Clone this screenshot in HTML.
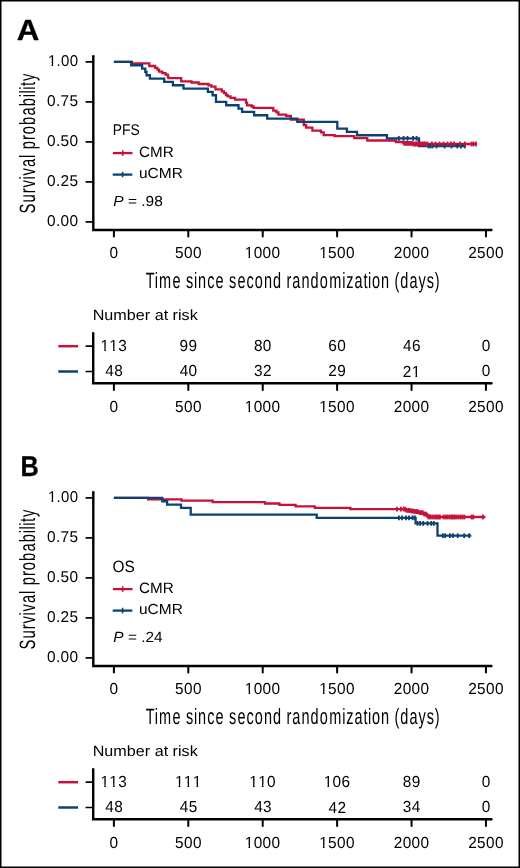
<!DOCTYPE html><html><head><meta charset="utf-8"><title>Survival curves</title><style>html,body{margin:0;padding:0;background:#fff;}svg{display:block;will-change:transform;font-family:"Liberation Sans",sans-serif;}</style></head><body><svg width="520" height="868" viewBox="0 0 520 868" font-family="Liberation Sans, sans-serif" text-rendering="geometricPrecision"><rect x="0" y="0" width="520" height="868" fill="#fff"/><g stroke="#000" fill="none">
<path d="M93.3,55.40V230.00H491.4" stroke-width="2.4" stroke-linejoin="miter"/>
<line x1="93.3" y1="55.40" x2="93.3" y2="56.50" stroke-width="2.4"/>
<line x1="491.4" y1="230.00" x2="491.4" y2="230.00" stroke-width="2.4" stroke-linecap="round"/>
<line x1="86.3" y1="61.90" x2="93" y2="61.90" stroke-width="1.7" stroke-linecap="round"/>
<line x1="86.3" y1="101.90" x2="93" y2="101.90" stroke-width="1.7" stroke-linecap="round"/>
<line x1="86.3" y1="141.90" x2="93" y2="141.90" stroke-width="1.7" stroke-linecap="round"/>
<line x1="86.3" y1="181.90" x2="93" y2="181.90" stroke-width="1.7" stroke-linecap="round"/>
<line x1="86.3" y1="221.90" x2="93" y2="221.90" stroke-width="1.7" stroke-linecap="round"/>
<line x1="113.90" y1="230.00" x2="113.90" y2="236.40" stroke-width="2" stroke-linecap="round"/>
<line x1="188.31" y1="230.00" x2="188.31" y2="236.40" stroke-width="2" stroke-linecap="round"/>
<line x1="262.72" y1="230.00" x2="262.72" y2="236.40" stroke-width="2" stroke-linecap="round"/>
<line x1="337.13" y1="230.00" x2="337.13" y2="236.40" stroke-width="2" stroke-linecap="round"/>
<line x1="411.54" y1="230.00" x2="411.54" y2="236.40" stroke-width="2" stroke-linecap="round"/>
<line x1="485.95" y1="230.00" x2="485.95" y2="236.40" stroke-width="2" stroke-linecap="round"/>
<path d="M93.2,332.20V383.20H491.4" stroke-width="2.4"/>
<line x1="491.4" y1="383.20" x2="491.4" y2="383.20" stroke-width="2.4" stroke-linecap="round"/>
<line x1="86.3" y1="346.10" x2="93" y2="346.10" stroke-width="1.7" stroke-linecap="round"/>
<line x1="86.3" y1="371.50" x2="93" y2="371.50" stroke-width="1.7" stroke-linecap="round"/>
<line x1="113.90" y1="383.20" x2="113.90" y2="390.00" stroke-width="2" stroke-linecap="round"/>
<line x1="188.31" y1="383.20" x2="188.31" y2="390.00" stroke-width="2" stroke-linecap="round"/>
<line x1="262.72" y1="383.20" x2="262.72" y2="390.00" stroke-width="2" stroke-linecap="round"/>
<line x1="337.13" y1="383.20" x2="337.13" y2="390.00" stroke-width="2" stroke-linecap="round"/>
<line x1="411.54" y1="383.20" x2="411.54" y2="390.00" stroke-width="2" stroke-linecap="round"/>
<line x1="485.95" y1="383.20" x2="485.95" y2="390.00" stroke-width="2" stroke-linecap="round"/>
</g>
<path d="M113.90,61.90H132.00V63.30H149.30V66.00H155.10V67.80H157.40V69.60H159.10V71.60H162.30V73.10H165.50V74.60H167.90V77.30H168.60V78.10H181.20V81.30H191.50V82.50H198.70V84.00H208.50V85.30H211.40V86.70H215.50V89.30H221.80V91.30H224.00V93.20H226.00V95.00H227.60V96.40H230.50V97.80H235.10V99.60H246.00V102.70H247.10V105.30H251.70V106.50H253.50V107.90H273.30V110.60H276.40V112.40H278.40V114.60H286.20V115.90H290.80V119.60H303.80V125.00H306.10V127.60H312.40V130.60H321.00V132.40H323.70V135.20H334.60V136.10H354.30V138.10H367.30V140.50H395.90V142.00H403.40V143.40H413.30V144.00H476.30" fill="none" stroke="#C4123A" stroke-width="2.3"/>
<path d="M113.90,61.90H131.20V65.23H142.10V68.57H145.30V71.90H146.50V75.23H149.90V78.57H164.20V81.90H172.90V85.23H183.50V88.57H207.90V91.90H212.60V95.23H216.00V101.90H226.20V105.23H238.50V108.57H242.10V111.90H254.10V115.23H267.20V118.57H297.30V121.90H337.30V128.57H346.90V131.90H357.00V135.23H386.90V138.40H419.00V146.00H466.00" fill="none" stroke="#0A4273" stroke-width="2.3"/>
<g stroke="#0A4273" stroke-width="1.8"><line x1="398.80" y1="136.00" x2="398.80" y2="140.80"/><line x1="403.60" y1="136.00" x2="403.60" y2="140.80"/><line x1="407.50" y1="136.00" x2="407.50" y2="140.80"/><line x1="413.10" y1="136.00" x2="413.10" y2="140.80"/><line x1="416.60" y1="136.00" x2="416.60" y2="140.80"/><line x1="428.50" y1="143.60" x2="428.50" y2="148.40"/><line x1="430.50" y1="143.60" x2="430.50" y2="148.40"/><line x1="432.50" y1="143.60" x2="432.50" y2="148.40"/><line x1="436.50" y1="143.60" x2="436.50" y2="148.40"/><line x1="444.60" y1="143.60" x2="444.60" y2="148.40"/><line x1="451.50" y1="143.60" x2="451.50" y2="148.40"/><line x1="457.30" y1="143.60" x2="457.30" y2="148.40"/><line x1="461.00" y1="143.60" x2="461.00" y2="148.40"/><line x1="464.80" y1="143.60" x2="464.80" y2="148.40"/></g>
<g stroke="#C4123A" stroke-width="1.8"><line x1="404.50" y1="141.00" x2="404.50" y2="145.80"/><line x1="406.00" y1="141.00" x2="406.00" y2="145.80"/><line x1="407.50" y1="141.00" x2="407.50" y2="145.80"/><line x1="409.00" y1="141.00" x2="409.00" y2="145.80"/><line x1="410.50" y1="141.00" x2="410.50" y2="145.80"/><line x1="412.00" y1="141.00" x2="412.00" y2="145.80"/><line x1="413.50" y1="141.60" x2="413.50" y2="146.40"/><line x1="415.00" y1="141.60" x2="415.00" y2="146.40"/><line x1="416.50" y1="141.60" x2="416.50" y2="146.40"/><line x1="418.00" y1="141.60" x2="418.00" y2="146.40"/><line x1="419.50" y1="141.60" x2="419.50" y2="146.40"/><line x1="421.00" y1="141.60" x2="421.00" y2="146.40"/><line x1="422.50" y1="141.60" x2="422.50" y2="146.40"/><line x1="424.00" y1="141.60" x2="424.00" y2="146.40"/><line x1="425.50" y1="141.60" x2="425.50" y2="146.40"/><line x1="427.30" y1="141.60" x2="427.30" y2="146.40"/><line x1="431.90" y1="141.60" x2="431.90" y2="146.40"/><line x1="435.40" y1="141.60" x2="435.40" y2="146.40"/><line x1="439.60" y1="141.60" x2="439.60" y2="146.40"/><line x1="443.50" y1="141.60" x2="443.50" y2="146.40"/><line x1="447.50" y1="141.60" x2="447.50" y2="146.40"/><line x1="451.00" y1="141.60" x2="451.00" y2="146.40"/><line x1="454.00" y1="141.60" x2="454.00" y2="146.40"/><line x1="460.00" y1="141.60" x2="460.00" y2="146.40"/><line x1="465.00" y1="141.60" x2="465.00" y2="146.40"/><line x1="471.60" y1="141.60" x2="471.60" y2="146.40"/><line x1="473.50" y1="141.60" x2="473.50" y2="146.40"/><line x1="476.00" y1="141.60" x2="476.00" y2="146.40"/></g>
<g stroke-width="2.3"><line x1="112.9" y1="153.10" x2="132.5" y2="153.10" stroke="#C4123A"/><line x1="122.7" y1="150.30" x2="122.7" y2="155.80" stroke="#C4123A" stroke-width="1.6"/><line x1="112.7" y1="174.60" x2="132.3" y2="174.60" stroke="#0A4273"/><line x1="122.6" y1="171.80" x2="122.6" y2="177.30" stroke="#0A4273" stroke-width="1.6"/><line x1="58.3" y1="346.20" x2="78.0" y2="346.20" stroke="#C4123A" stroke-width="2.5"/><line x1="58.3" y1="371.50" x2="78.0" y2="371.50" stroke="#0A4273" stroke-width="2.5"/></g>
<g fill="#000"><text stroke="#000" stroke-width="0.30" stroke-linejoin="round" x="0.00" y="0" font-size="29.216" font-weight="bold" transform="translate(16.871 40.250) scale(1.07139 1)">A</text><text x="0.18 9.17 13.80 22.88" y="0" font-size="15.678" transform="translate(47.785 66.347) scale(0.95560 1)">1.00</text><rect x="48.25" y="63.47" width="3.37" height="3.14" fill="#fff"/><rect x="53.16" y="63.47" width="3.03" height="3.14" fill="#fff"/><text x="0.18 9.17 13.80 22.88" y="0" font-size="15.678" transform="translate(46.918 106.347) scale(0.98505 1)">0.75</text><text x="0.18 9.17 13.80 22.88" y="0" font-size="15.678" transform="translate(46.919 146.347) scale(0.98355 1)">0.50</text><text x="0.18 9.17 13.80 22.88" y="0" font-size="15.678" transform="translate(46.918 186.347) scale(0.98505 1)">0.25</text><text x="0.18 9.17 13.80 22.88" y="0" font-size="15.678" transform="translate(46.919 226.347) scale(0.98355 1)">0.00</text><text x="1.01 17.59 31.22 39.83 51.97 57.97 70.61 84.08 89.74 97.14 110.77 119.47 133.43 147.40 161.37 174.83 180.41 185.99 191.65 198.96" y="0" font-size="22.100" transform="translate(34.914 214.244) rotate(-90) scale(0.66935 1)">Survival probability</text><text x="0.19" y="0" font-size="16.031" transform="translate(109.442 258.043) scale(0.96000 1)">0</text><text x="0.19 9.47 18.76" y="0" font-size="16.031" transform="translate(174.929 258.043) scale(0.96000 1)">500</text><text x="0.19 9.47 18.76 28.05" y="0" font-size="16.031" transform="translate(244.603 258.043) scale(0.96000 1)">1000</text><rect x="245.08" y="255.42" width="3.46" height="3.21" fill="#fff"/><rect x="250.12" y="255.42" width="3.11" height="3.21" fill="#fff"/><text x="0.19 9.47 18.76 28.05" y="0" font-size="16.031" transform="translate(319.013 258.043) scale(0.96000 1)">1500</text><rect x="319.49" y="255.42" width="3.46" height="3.21" fill="#fff"/><rect x="324.53" y="255.42" width="3.11" height="3.21" fill="#fff"/><text x="0.19 9.47 18.76 28.05" y="0" font-size="16.031" transform="translate(393.622 258.043) scale(0.96000 1)">2000</text><text x="0.19 9.47 18.76 28.05" y="0" font-size="16.031" transform="translate(468.032 258.043) scale(0.96000 1)">2500</text><text x="0.92 14.74 21.24 41.75 55.29 62.61 74.74 80.83 94.71 107.35 120.90 128.21 140.85 154.73 167.37 181.34 195.31 208.86 215.92 224.62 238.58 252.55 266.52 280.90 300.90 306.90 319.54 333.09 339.98 346.06 360.03 373.58 380.64 389.34 403.31 417.19 429.74 442.05" y="0" font-size="22.100" transform="translate(145.071 287.814) scale(0.65548 1)">Time since second randomization (days)</text><text x="0.00 10.36 19.85" y="0" font-size="15.537" transform="translate(112.862 135.348) scale(0.89272 1)">PFS</text><text x="0.00 10.81 23.28" y="0" font-size="14.972" transform="translate(139.027 156.754) scale(1.01714 1)">CMR</text><text x="0.00 8.09 18.60 30.72" y="0" font-size="14.548" transform="translate(138.993 178.458) scale(1.06561 1)">uCMR</text><text y="0" font-size="14.548" transform="translate(113.323 205.958) scale(1.06546 1)"><tspan x="0.00" font-style="italic">P</tspan><tspan x="9.70 13.75 22.24 26.28 30.32 38.42"> = .98</tspan></text><text x="0.00 10.82 19.15 31.62 39.96 48.29 53.27 57.44 65.77 69.93 74.09 79.08 82.40 89.89" y="0" font-size="14.979" transform="translate(92.674 320.054) scale(1.07926 1)">Number at risk</text><text x="0.19 9.47 18.76" y="0" font-size="16.031" transform="translate(100.279 351.043) scale(0.96000 1)">113</text><rect x="100.76" y="348.42" width="3.46" height="3.21" fill="#fff"/><rect x="105.80" y="348.42" width="3.11" height="3.21" fill="#fff"/><rect x="109.67" y="348.42" width="3.46" height="3.21" fill="#fff"/><rect x="114.72" y="348.42" width="3.11" height="3.21" fill="#fff"/><text x="0.19 9.47" y="0" font-size="16.031" transform="translate(105.142 376.343) scale(0.96000 1)">48</text><text x="0.19" y="0" font-size="16.031" transform="translate(109.442 411.643) scale(0.96000 1)">0</text><text x="0.19 9.47" y="0" font-size="16.031" transform="translate(179.398 351.043) scale(0.96000 1)">99</text><text x="0.19 9.47" y="0" font-size="16.031" transform="translate(179.518 376.343) scale(0.96000 1)">40</text><text x="0.19 9.47 18.76" y="0" font-size="16.031" transform="translate(174.929 411.643) scale(0.96000 1)">500</text><text x="0.19 9.47" y="0" font-size="16.031" transform="translate(253.771 351.043) scale(0.96000 1)">80</text><text x="0.19 9.47" y="0" font-size="16.031" transform="translate(253.898 376.343) scale(0.96000 1)">32</text><text x="0.19 9.47 18.76 28.05" y="0" font-size="16.031" transform="translate(244.603 411.643) scale(0.96000 1)">1000</text><rect x="245.08" y="409.42" width="3.46" height="3.21" fill="#fff"/><rect x="250.12" y="409.42" width="3.11" height="3.21" fill="#fff"/><text x="0.19 9.47" y="0" font-size="16.031" transform="translate(328.124 351.043) scale(0.96000 1)">60</text><text x="0.19 9.47" y="0" font-size="16.031" transform="translate(328.192 376.343) scale(0.96000 1)">29</text><text x="0.19 9.47 18.76 28.05" y="0" font-size="16.031" transform="translate(319.013 411.643) scale(0.96000 1)">1500</text><rect x="319.49" y="409.42" width="3.46" height="3.21" fill="#fff"/><rect x="324.53" y="409.42" width="3.11" height="3.21" fill="#fff"/><text x="0.19 9.47" y="0" font-size="16.031" transform="translate(402.786 351.043) scale(0.96000 1)">46</text><text x="0.19 9.47" y="0" font-size="16.031" transform="translate(402.613 376.500) scale(0.96000 1)">21</text><rect x="412.01" y="374.42" width="3.46" height="3.21" fill="#fff"/><rect x="417.05" y="374.42" width="3.11" height="3.21" fill="#fff"/><text x="0.19 9.47 18.76 28.05" y="0" font-size="16.031" transform="translate(393.622 411.643) scale(0.96000 1)">2000</text><text x="0.19" y="0" font-size="16.031" transform="translate(481.492 351.043) scale(0.96000 1)">0</text><text x="0.19" y="0" font-size="16.031" transform="translate(481.492 376.343) scale(0.96000 1)">0</text><text x="0.19 9.47 18.76 28.05" y="0" font-size="16.031" transform="translate(468.032 411.643) scale(0.96000 1)">2500</text></g>
<g stroke="#000" fill="none">
<path d="M93.3,491.40V666.00H491.4" stroke-width="2.4" stroke-linejoin="miter"/>
<line x1="93.3" y1="491.40" x2="93.3" y2="492.50" stroke-width="2.4"/>
<line x1="491.4" y1="666.00" x2="491.4" y2="666.00" stroke-width="2.4" stroke-linecap="round"/>
<line x1="86.3" y1="497.90" x2="93" y2="497.90" stroke-width="1.7" stroke-linecap="round"/>
<line x1="86.3" y1="537.90" x2="93" y2="537.90" stroke-width="1.7" stroke-linecap="round"/>
<line x1="86.3" y1="577.90" x2="93" y2="577.90" stroke-width="1.7" stroke-linecap="round"/>
<line x1="86.3" y1="617.90" x2="93" y2="617.90" stroke-width="1.7" stroke-linecap="round"/>
<line x1="86.3" y1="657.90" x2="93" y2="657.90" stroke-width="1.7" stroke-linecap="round"/>
<line x1="113.90" y1="666.00" x2="113.90" y2="672.40" stroke-width="2" stroke-linecap="round"/>
<line x1="188.31" y1="666.00" x2="188.31" y2="672.40" stroke-width="2" stroke-linecap="round"/>
<line x1="262.72" y1="666.00" x2="262.72" y2="672.40" stroke-width="2" stroke-linecap="round"/>
<line x1="337.13" y1="666.00" x2="337.13" y2="672.40" stroke-width="2" stroke-linecap="round"/>
<line x1="411.54" y1="666.00" x2="411.54" y2="672.40" stroke-width="2" stroke-linecap="round"/>
<line x1="485.95" y1="666.00" x2="485.95" y2="672.40" stroke-width="2" stroke-linecap="round"/>
<path d="M93.2,768.20V819.20H491.4" stroke-width="2.4"/>
<line x1="491.4" y1="819.20" x2="491.4" y2="819.20" stroke-width="2.4" stroke-linecap="round"/>
<line x1="86.3" y1="782.10" x2="93" y2="782.10" stroke-width="1.7" stroke-linecap="round"/>
<line x1="86.3" y1="807.50" x2="93" y2="807.50" stroke-width="1.7" stroke-linecap="round"/>
<line x1="113.90" y1="819.20" x2="113.90" y2="826.00" stroke-width="2" stroke-linecap="round"/>
<line x1="188.31" y1="819.20" x2="188.31" y2="826.00" stroke-width="2" stroke-linecap="round"/>
<line x1="262.72" y1="819.20" x2="262.72" y2="826.00" stroke-width="2" stroke-linecap="round"/>
<line x1="337.13" y1="819.20" x2="337.13" y2="826.00" stroke-width="2" stroke-linecap="round"/>
<line x1="411.54" y1="819.20" x2="411.54" y2="826.00" stroke-width="2" stroke-linecap="round"/>
<line x1="485.95" y1="819.20" x2="485.95" y2="826.00" stroke-width="2" stroke-linecap="round"/>
</g>
<path d="M113.90,497.90H148.10V499.30H181.50V500.70H212.70V502.10H265.00V503.50H279.40V504.90H295.60V506.40H314.80V507.80H350.40V509.10H406.10V510.40H410.60V511.00H414.60V511.60H418.60V512.60H422.70V514.00H426.70V515.60H429.50V517.00H485.40" fill="none" stroke="#C4123A" stroke-width="2.3"/>
<path d="M113.90,497.90H162.30V501.23H167.10V504.57H181.00V507.90H190.70V514.57H316.70V517.80H415.60V523.40H437.50V535.70H471.30" fill="none" stroke="#0A4273" stroke-width="2.3"/>
<g stroke="#0A4273" stroke-width="1.8"><line x1="398.90" y1="515.40" x2="398.90" y2="520.20"/><line x1="402.00" y1="515.40" x2="402.00" y2="520.20"/><line x1="405.90" y1="515.40" x2="405.90" y2="520.20"/><line x1="409.00" y1="515.40" x2="409.00" y2="520.20"/><line x1="412.60" y1="515.40" x2="412.60" y2="520.20"/><line x1="414.80" y1="515.40" x2="414.80" y2="520.20"/><line x1="417.50" y1="521.00" x2="417.50" y2="525.80"/><line x1="420.10" y1="521.00" x2="420.10" y2="525.80"/><line x1="423.20" y1="521.00" x2="423.20" y2="525.80"/><line x1="427.60" y1="521.00" x2="427.60" y2="525.80"/><line x1="431.20" y1="521.00" x2="431.20" y2="525.80"/><line x1="433.80" y1="521.00" x2="433.80" y2="525.80"/><line x1="442.80" y1="533.30" x2="442.80" y2="538.10"/><line x1="445.20" y1="533.30" x2="445.20" y2="538.10"/><line x1="450.00" y1="533.30" x2="450.00" y2="538.10"/><line x1="453.00" y1="533.30" x2="453.00" y2="538.10"/><line x1="457.70" y1="533.30" x2="457.70" y2="538.10"/><line x1="464.20" y1="533.30" x2="464.20" y2="538.10"/><line x1="469.20" y1="533.30" x2="469.20" y2="538.10"/></g>
<g stroke="#C4123A" stroke-width="1.8"><line x1="396.90" y1="506.70" x2="396.90" y2="511.50"/><line x1="400.90" y1="506.70" x2="400.90" y2="511.50"/><line x1="403.70" y1="506.70" x2="403.70" y2="511.50"/><line x1="405.00" y1="506.70" x2="405.00" y2="511.50"/><line x1="406.60" y1="508.00" x2="406.60" y2="512.80"/><line x1="408.20" y1="508.00" x2="408.20" y2="512.80"/><line x1="409.80" y1="508.00" x2="409.80" y2="512.80"/><line x1="411.40" y1="508.60" x2="411.40" y2="513.40"/><line x1="413.00" y1="508.60" x2="413.00" y2="513.40"/><line x1="414.60" y1="509.20" x2="414.60" y2="514.00"/><line x1="416.20" y1="509.20" x2="416.20" y2="514.00"/><line x1="417.80" y1="509.20" x2="417.80" y2="514.00"/><line x1="419.40" y1="510.20" x2="419.40" y2="515.00"/><line x1="421.00" y1="510.20" x2="421.00" y2="515.00"/><line x1="422.60" y1="510.20" x2="422.60" y2="515.00"/><line x1="424.20" y1="511.60" x2="424.20" y2="516.40"/><line x1="425.80" y1="511.60" x2="425.80" y2="516.40"/><line x1="427.40" y1="513.20" x2="427.40" y2="518.00"/><line x1="428.50" y1="514.60" x2="428.50" y2="519.40"/><line x1="430.40" y1="514.60" x2="430.40" y2="519.40"/><line x1="432.30" y1="514.60" x2="432.30" y2="519.40"/><line x1="434.20" y1="514.60" x2="434.20" y2="519.40"/><line x1="436.10" y1="514.60" x2="436.10" y2="519.40"/><line x1="438.00" y1="514.60" x2="438.00" y2="519.40"/><line x1="439.90" y1="514.60" x2="439.90" y2="519.40"/><line x1="443.50" y1="514.60" x2="443.50" y2="519.40"/><line x1="445.40" y1="514.60" x2="445.40" y2="519.40"/><line x1="447.30" y1="514.60" x2="447.30" y2="519.40"/><line x1="449.20" y1="514.60" x2="449.20" y2="519.40"/><line x1="451.10" y1="514.60" x2="451.10" y2="519.40"/><line x1="453.00" y1="514.60" x2="453.00" y2="519.40"/><line x1="454.90" y1="514.60" x2="454.90" y2="519.40"/><line x1="456.80" y1="514.60" x2="456.80" y2="519.40"/><line x1="458.70" y1="514.60" x2="458.70" y2="519.40"/><line x1="460.60" y1="514.60" x2="460.60" y2="519.40"/><line x1="462.50" y1="514.60" x2="462.50" y2="519.40"/><line x1="464.40" y1="514.60" x2="464.40" y2="519.40"/><line x1="471.50" y1="514.60" x2="471.50" y2="519.40"/><line x1="473.20" y1="514.60" x2="473.20" y2="519.40"/><line x1="482.90" y1="514.60" x2="482.90" y2="519.40"/></g>
<g stroke-width="2.3"><line x1="112.9" y1="589.10" x2="132.5" y2="589.10" stroke="#C4123A"/><line x1="122.7" y1="586.30" x2="122.7" y2="591.80" stroke="#C4123A" stroke-width="1.6"/><line x1="112.7" y1="610.60" x2="132.3" y2="610.60" stroke="#0A4273"/><line x1="122.6" y1="607.80" x2="122.6" y2="613.30" stroke="#0A4273" stroke-width="1.6"/><line x1="58.3" y1="782.20" x2="78.0" y2="782.20" stroke="#C4123A" stroke-width="2.5"/><line x1="58.3" y1="807.50" x2="78.0" y2="807.50" stroke="#0A4273" stroke-width="2.5"/></g>
<g fill="#000"><text stroke="#000" stroke-width="0.30" stroke-linejoin="round" x="0.00" y="0" font-size="28.634" font-weight="bold" transform="translate(20.461 476.050) scale(0.88187 1)">B</text><text x="0.18 9.17 13.80 22.88" y="0" font-size="15.678" transform="translate(47.785 502.347) scale(0.95560 1)">1.00</text><rect x="48.25" y="499.47" width="3.37" height="3.14" fill="#fff"/><rect x="53.16" y="499.47" width="3.03" height="3.14" fill="#fff"/><text x="0.18 9.17 13.80 22.88" y="0" font-size="15.678" transform="translate(46.918 542.347) scale(0.98505 1)">0.75</text><text x="0.18 9.17 13.80 22.88" y="0" font-size="15.678" transform="translate(46.919 582.347) scale(0.98355 1)">0.50</text><text x="0.18 9.17 13.80 22.88" y="0" font-size="15.678" transform="translate(46.918 622.347) scale(0.98505 1)">0.25</text><text x="0.18 9.17 13.80 22.88" y="0" font-size="15.678" transform="translate(46.919 662.347) scale(0.98355 1)">0.00</text><text x="1.01 17.59 31.22 39.83 51.97 57.97 70.61 84.08 89.74 97.14 110.77 119.47 133.43 147.40 161.37 174.83 180.41 185.99 191.65 198.96" y="0" font-size="22.100" transform="translate(34.914 650.244) rotate(-90) scale(0.66935 1)">Survival probability</text><text x="0.19" y="0" font-size="16.031" transform="translate(109.442 694.043) scale(0.96000 1)">0</text><text x="0.19 9.47 18.76" y="0" font-size="16.031" transform="translate(174.929 694.043) scale(0.96000 1)">500</text><text x="0.19 9.47 18.76 28.05" y="0" font-size="16.031" transform="translate(244.603 694.043) scale(0.96000 1)">1000</text><rect x="245.08" y="691.42" width="3.46" height="3.21" fill="#fff"/><rect x="250.12" y="691.42" width="3.11" height="3.21" fill="#fff"/><text x="0.19 9.47 18.76 28.05" y="0" font-size="16.031" transform="translate(319.013 694.043) scale(0.96000 1)">1500</text><rect x="319.49" y="691.42" width="3.46" height="3.21" fill="#fff"/><rect x="324.53" y="691.42" width="3.11" height="3.21" fill="#fff"/><text x="0.19 9.47 18.76 28.05" y="0" font-size="16.031" transform="translate(393.622 694.043) scale(0.96000 1)">2000</text><text x="0.19 9.47 18.76 28.05" y="0" font-size="16.031" transform="translate(468.032 694.043) scale(0.96000 1)">2500</text><text x="0.92 14.74 21.24 41.75 55.29 62.61 74.74 80.83 94.71 107.35 120.90 128.21 140.85 154.73 167.37 181.34 195.31 208.86 215.92 224.62 238.58 252.55 266.52 280.90 300.90 306.90 319.54 333.09 339.98 346.06 360.03 373.58 380.64 389.34 403.31 417.19 429.74 442.05" y="0" font-size="22.100" transform="translate(145.071 723.814) scale(0.65548 1)">Time since second randomization (days)</text><text x="0.00 12.74" y="0" font-size="16.384" transform="translate(112.471 571.640) scale(0.93931 1)">OS</text><text x="0.00 10.81 23.28" y="0" font-size="14.972" transform="translate(139.027 592.754) scale(1.01714 1)">CMR</text><text x="0.00 8.09 18.60 30.72" y="0" font-size="14.548" transform="translate(138.993 614.458) scale(1.06561 1)">uCMR</text><text y="0" font-size="14.751" transform="translate(113.325 642.100) scale(1.04602 1)"><tspan x="0.00" font-style="italic">P</tspan><tspan x="9.84 13.94 22.55 26.65 30.75 38.95"> = .24</tspan></text><text x="0.00 10.82 19.15 31.62 39.96 48.29 53.27 57.44 65.77 69.93 74.09 79.08 82.40 89.89" y="0" font-size="14.979" transform="translate(92.674 756.054) scale(1.07926 1)">Number at risk</text><text x="0.19 9.47 18.76" y="0" font-size="16.031" transform="translate(100.279 787.043) scale(0.96000 1)">113</text><rect x="100.76" y="784.42" width="3.46" height="3.21" fill="#fff"/><rect x="105.80" y="784.42" width="3.11" height="3.21" fill="#fff"/><rect x="109.67" y="784.42" width="3.46" height="3.21" fill="#fff"/><rect x="114.72" y="784.42" width="3.11" height="3.21" fill="#fff"/><text x="0.19 9.47" y="0" font-size="16.031" transform="translate(105.142 812.343) scale(0.96000 1)">48</text><text x="0.19" y="0" font-size="16.031" transform="translate(109.442 847.643) scale(0.96000 1)">0</text><text x="0.19 9.47 18.76" y="0" font-size="16.031" transform="translate(174.726 787.200) scale(0.96000 1)">111</text><rect x="175.21" y="784.42" width="3.46" height="3.21" fill="#fff"/><rect x="180.25" y="784.42" width="3.11" height="3.21" fill="#fff"/><rect x="184.12" y="784.42" width="3.46" height="3.21" fill="#fff"/><rect x="189.16" y="784.42" width="3.11" height="3.21" fill="#fff"/><rect x="193.04" y="784.42" width="3.46" height="3.21" fill="#fff"/><rect x="198.08" y="784.42" width="3.11" height="3.21" fill="#fff"/><text x="0.19 9.47" y="0" font-size="16.031" transform="translate(179.541 812.343) scale(0.96000 1)">45</text><text x="0.19 9.47 18.76" y="0" font-size="16.031" transform="translate(174.929 847.643) scale(0.96000 1)">500</text><text x="0.19 9.47 18.76" y="0" font-size="16.031" transform="translate(249.061 787.043) scale(0.96000 1)">110</text><rect x="249.54" y="784.42" width="3.46" height="3.21" fill="#fff"/><rect x="254.58" y="784.42" width="3.11" height="3.21" fill="#fff"/><rect x="258.46" y="784.42" width="3.46" height="3.21" fill="#fff"/><rect x="263.50" y="784.42" width="3.11" height="3.21" fill="#fff"/><text x="0.19 9.47" y="0" font-size="16.031" transform="translate(253.966 812.343) scale(0.96000 1)">43</text><text x="0.19 9.47 18.76 28.05" y="0" font-size="16.031" transform="translate(244.603 847.643) scale(0.96000 1)">1000</text><rect x="245.08" y="845.42" width="3.46" height="3.21" fill="#fff"/><rect x="250.12" y="845.42" width="3.11" height="3.21" fill="#fff"/><text x="0.19 9.47 18.76" y="0" font-size="16.031" transform="translate(323.509 787.043) scale(0.96000 1)">106</text><rect x="323.99" y="784.42" width="3.46" height="3.21" fill="#fff"/><rect x="329.03" y="784.42" width="3.11" height="3.21" fill="#fff"/><text x="0.19 9.47" y="0" font-size="16.031" transform="translate(328.425 812.500) scale(0.96000 1)">42</text><text x="0.19 9.47 18.76 28.05" y="0" font-size="16.031" transform="translate(319.013 847.643) scale(0.96000 1)">1500</text><rect x="319.49" y="845.42" width="3.46" height="3.21" fill="#fff"/><rect x="324.53" y="845.42" width="3.11" height="3.21" fill="#fff"/><text x="0.19 9.47" y="0" font-size="16.031" transform="translate(402.654 787.043) scale(0.96000 1)">89</text><text x="0.19 9.47" y="0" font-size="16.031" transform="translate(402.557 812.343) scale(0.96000 1)">34</text><text x="0.19 9.47 18.76 28.05" y="0" font-size="16.031" transform="translate(393.622 847.643) scale(0.96000 1)">2000</text><text x="0.19" y="0" font-size="16.031" transform="translate(481.492 787.043) scale(0.96000 1)">0</text><text x="0.19" y="0" font-size="16.031" transform="translate(481.492 812.343) scale(0.96000 1)">0</text><text x="0.19 9.47 18.76 28.05" y="0" font-size="16.031" transform="translate(468.032 847.643) scale(0.96000 1)">2500</text></g><rect x="0.75" y="0.75" width="518.5" height="866.5" fill="none" stroke="#000" stroke-width="1.5"/></svg></body></html>
